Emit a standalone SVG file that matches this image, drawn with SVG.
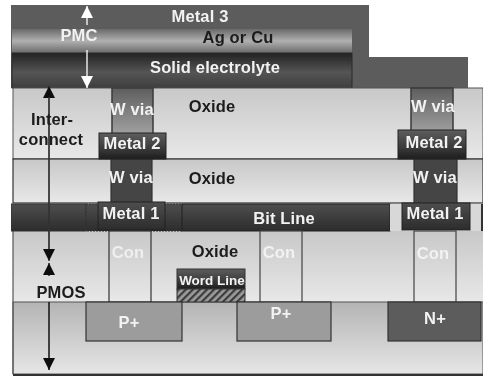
<svg xmlns="http://www.w3.org/2000/svg" width="483" height="376" viewBox="0 0 483 376">
<style>
text{font-family:"Liberation Sans",Arial,sans-serif;font-weight:700;text-anchor:middle;font-size:16.5px;letter-spacing:.15px}
.w{fill:#f2f2f2}.k{fill:#1c1c1c}
.ol{stroke:#3a3a3a;stroke-width:1.5}
.ln{stroke:#333;stroke-width:1.2}
</style>
<defs>
<filter id="soft" x="0" y="0" width="1" height="1"><feGaussianBlur stdDeviation="0.7"/></filter>
<linearGradient id="ox" x1="0" y1="0" x2="0" y2="1"><stop offset="0" stop-color="#c8c8c8"/><stop offset="1" stop-color="#e8e8e8"/></linearGradient>
<linearGradient id="sub" x1="0" y1="0" x2="0" y2="1"><stop offset="0" stop-color="#b4b4b4"/><stop offset="1" stop-color="#e6e6e6"/></linearGradient>
<linearGradient id="ag" x1="0" y1="0" x2="0" y2="1"><stop offset="0" stop-color="#6a6a6a"/><stop offset=".5" stop-color="#b0b0b0"/><stop offset="1" stop-color="#6a6a6a"/></linearGradient>
<linearGradient id="se" x1="0" y1="0" x2="0" y2="1"><stop offset="0" stop-color="#222"/><stop offset=".55" stop-color="#555"/><stop offset="1" stop-color="#3e3e3e"/></linearGradient>
<linearGradient id="via" x1="0" y1="0" x2="0" y2="1"><stop offset="0" stop-color="#5e5e5e"/><stop offset="1" stop-color="#a0a0a0"/></linearGradient>
<linearGradient id="m" x1="0" y1="0" x2="0" y2="1"><stop offset="0" stop-color="#5e5e5e"/><stop offset=".6" stop-color="#3a3a3a"/><stop offset="1" stop-color="#1e1e1e"/></linearGradient>
<linearGradient id="band" x1="0" y1="0" x2="0" y2="1"><stop offset="0" stop-color="#4e4e4e"/><stop offset="1" stop-color="#2c2c2c"/></linearGradient>
<pattern id="hatch" width="5" height="5" patternUnits="userSpaceOnUse" patternTransform="rotate(45)"><rect width="5" height="5" fill="#9a9a9a"/><rect width="2.2" height="5" fill="#3c3c3c"/></pattern>
<marker id="ab" viewBox="0 0 12 12" refX="12" refY="6" markerWidth="12" markerHeight="12" markerUnits="userSpaceOnUse" orient="auto"><path d="M0 0L12 6L0 12z" fill="#111"/></marker>
<marker id="aw" viewBox="0 0 12 12" refX="12" refY="6" markerWidth="12" markerHeight="12" markerUnits="userSpaceOnUse" orient="auto"><path d="M0 0L12 6L0 12z" fill="#fff"/></marker>
</defs>
<rect width="483" height="376" fill="#fff"/>
<g filter="url(#soft)">
<path d="M11 5H369V57H468V88H11z" fill="#5c5c5c"/>
<rect x="12" y="29" width="340" height="24" fill="url(#ag)"/>
<rect x="12" y="53" width="340" height="35" fill="url(#se)" stroke="#2a2a2a"/>
<rect x="13" y="88" width="470" height="71" fill="url(#ox)" stroke="#555"/>
<rect x="13" y="159" width="470" height="44" fill="url(#ox)" class="ln"/>
<rect x="13" y="231" width="470" height="71" fill="url(#ox)"/>
<rect x="13" y="302" width="470" height="72" fill="url(#sub)" stroke="#555"/>
<path d="M13 231V374" stroke="#555" stroke-width="1.2" fill="none"/>
<rect x="13" y="374" width="470" height="2" fill="#333"/>
<rect x="112" y="88" width="41" height="46" fill="url(#via)" class="ol"/>
<rect x="411" y="88" width="42" height="44" fill="url(#via)" class="ol"/>
<rect x="111" y="159" width="41" height="45" fill="#444" class="ln"/>
<rect x="414" y="159" width="43" height="45" fill="#444" class="ln"/>
<rect x="99" y="133" width="67" height="26" fill="url(#m)" stroke="#222"/>
<rect x="398" y="130" width="68" height="29" fill="url(#m)" stroke="#222"/>
<rect x="11" y="204" width="75" height="27" fill="url(#band)" stroke="#333"/>
<rect x="86" y="204" width="96" height="27" fill="url(#band)" stroke="#333" stroke-dasharray="2 1"/>
<rect x="182" y="204" width="208" height="27" fill="url(#band)" stroke="#222"/>
<rect x="390" y="204" width="12" height="27" fill="#d8d8d8"/>
<rect x="470" y="204" width="11" height="27" fill="#d8d8d8"/>
<rect x="481" y="204" width="2" height="27" fill="#333"/>
<rect x="98" y="202" width="67" height="28" fill="url(#band)" stroke="#222"/>
<rect x="402" y="203" width="68" height="27" fill="url(#band)" stroke="#222"/>
<rect x="109" y="231" width="42" height="71" fill="url(#ox)" class="ln"/>
<rect x="260" y="231" width="42" height="71" fill="url(#ox)" stroke="#444" stroke-width="1.2"/>
<rect x="414" y="231" width="42" height="71" fill="url(#ox)" stroke="#444" stroke-width="1.2"/>
<rect x="177" y="269" width="68" height="20" fill="url(#m)" stroke="#333"/>
<rect x="177" y="289" width="68" height="13" fill="url(#hatch)" stroke="#333"/>
<rect x="86" y="302" width="96" height="39" fill="#9c9c9c" class="ln"/>
<rect x="237" y="302" width="94" height="39" fill="#9c9c9c" class="ln"/>
<rect x="388" y="302" width="93" height="39" fill="#5c5c5c" class="ln"/>
<g id="connectors" fill="none">
<path d="M87 25V6" stroke="#fff" stroke-width="1.3" marker-end="url(#aw)"/>
<path d="M87 50V88" stroke="#fff" stroke-width="1.3" marker-end="url(#aw)"/>
<path d="M49 250V86" stroke="#333" stroke-width="1.3" marker-end="url(#ab)"/>
<path d="M49 97V261" stroke="#333" stroke-width="1.3" marker-end="url(#ab)"/>
<path d="M49 276V263" stroke="#111" stroke-width="1.3" marker-end="url(#ab)"/>
<path d="M49 302V370" stroke="#111" stroke-width="1.5" marker-end="url(#ab)"/>
</g>
<g>
<text x="200" y="22" class="w">Metal 3</text>
<text x="79" y="41" class="w">PMC</text>
<text x="238" y="43" class="k">Ag or Cu</text>
<text x="215" y="73" class="w">Solid electrolyte</text>
<text x="52" y="125" class="k">Inter-</text>
<text x="51" y="145" class="k">connect</text>
<text x="132" y="115" class="w">W via</text>
<text x="212" y="112" class="k">Oxide</text>
<text x="433" y="112" class="w">W via</text>
<text x="132" y="149" class="w">Metal 2</text>
<text x="434" y="148" class="w">Metal 2</text>
<text x="131" y="183" class="w">W via</text>
<text x="212" y="184" class="k">Oxide</text>
<text x="435" y="183" class="w">W via</text>
<text x="131" y="219" class="w">Metal 1</text>
<text x="284" y="224" class="w">Bit Line</text>
<text x="435" y="219" class="w">Metal 1</text>
<text x="128" y="258" class="w" fill-opacity=".9">Con</text>
<text x="279" y="258" class="w">Con</text>
<text x="433" y="259" class="w">Con</text>
<text x="215" y="257" class="k">Oxide</text>
<text x="212" y="285" class="w" style="font-size:13.5px;letter-spacing:0">Word Line</text>
<text x="61" y="298" class="k">PMOS</text>
<text x="129" y="328" class="w">P+</text>
<text x="281" y="319" class="w">P+</text>
<text x="435" y="324" class="w">N+</text>
</g>
</g>
</svg>
